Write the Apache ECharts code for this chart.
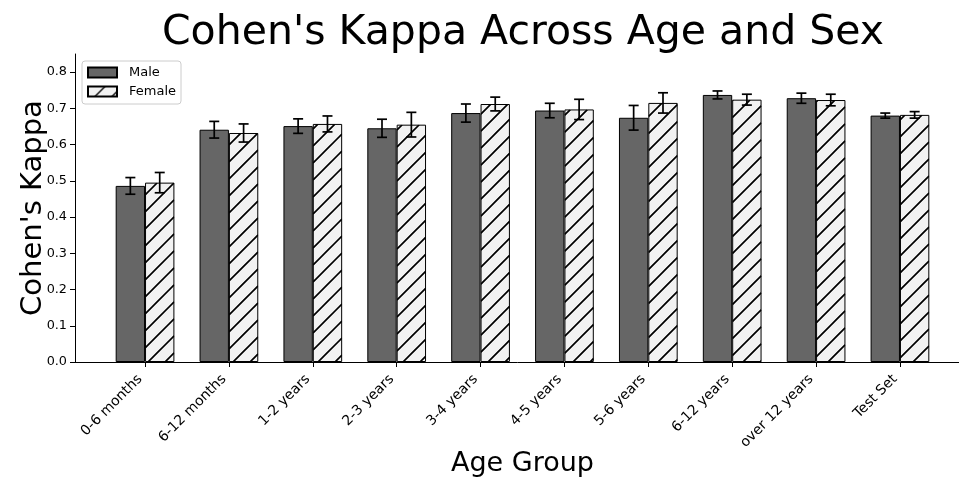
<!DOCTYPE html>
<html>
<head>
<meta charset="utf-8">
<title>Cohen's Kappa Across Age and Sex</title>
<script src="https://cdn.jsdelivr.net/npm/echarts@6/dist/echarts.min.js"></script>
<style>
  html, body { margin: 0; padding: 0; background: #fff; }
  #chart { width: 959px; height: 479px; }
</style>
</head>
<body>
<div id="chart"></div>
<script>
// Age groups on the x axis
const ageGroups = ['0-6 months', '6-12 months', '1-2 years', '2-3 years', '3-4 years',
  '4-5 years', '5-6 years', '6-12 years', 'over 12 years', 'Test Set'];

// Mean kappa and error (half-width) per group
const maleKappa   = [0.486, 0.641, 0.651, 0.645, 0.687, 0.694, 0.674, 0.737, 0.728, 0.680];
const maleErr     = [0.023, 0.023, 0.020, 0.025, 0.025, 0.020, 0.034, 0.011, 0.014, 0.007];
const femaleKappa = [0.495, 0.632, 0.657, 0.655, 0.712, 0.697, 0.715, 0.724, 0.723, 0.682];
const femaleErr   = [0.028, 0.025, 0.022, 0.034, 0.019, 0.028, 0.028, 0.015, 0.016, 0.009];

// Y axis tick labels
const yTicks = [0, 0.1, 0.2, 0.3, 0.4, 0.5, 0.6, 0.7, 0.8];

const FONT = 'DejaVu Sans';
const BAR_W = 0.35;          // bar width in category units
const HATCH = 17;            // hatch line spacing (px)
const groupIdx = ageGroups.map((_, i) => i);

// Diagonal hatch tile (used for the Female fill and its legend swatch)
function makeHatch() {
  const s = HATCH;
  const c = document.createElement('canvas');
  c.width = s; c.height = s;
  const g = c.getContext('2d');
  g.fillStyle = '#f2f2f2';
  g.fillRect(0, 0, s, s);
  g.strokeStyle = '#000';
  g.lineWidth = 1.4;
  g.beginPath();
  g.moveTo(-2, s + 2); g.lineTo(s + 2, -2);
  g.moveTo(-2, 2); g.lineTo(2, -2);
  g.moveTo(s - 2, s + 2); g.lineTo(s + 2, s - 2);
  g.stroke();
  return c;
}
const hatch = { image: makeHatch(), repeat: 'repeat' };

// "//" hatch strokes drawn inside each Female bar
function hatchLines(values) {
  return {
    type: 'custom',
    name: 'Female hatch',
    z: 3,
    silent: true,
    data: values.map((v, i) => [i, v]),
    renderItem: function (params, api) {
      const i = api.value(0);
      const v = api.value(1);
      const tl = api.coord([i, v]);
      const br = api.coord([i + BAR_W, 0]);
      const left = tl[0] + 0.5, right = br[0] - 0.5;
      const top = tl[1] + 0.5, bottom = br[1] - 0.5;
      const children = [];
      const cStart = Math.ceil((left + top) / HATCH) * HATCH;
      for (let c = cStart; c <= right + bottom; c += HATCH) {
        const xa = Math.max(left, c - bottom);
        const xb = Math.min(right, c - top);
        if (xb <= xa) continue;
        children.push({
          type: 'line',
          shape: { x1: xa, y1: c - xa, x2: xb, y2: c - xb },
          style: { stroke: '#000', lineWidth: 1.3 }
        });
      }
      return { type: 'group', children: children };
    }
  };
}

function errorBars(values, errs, shift, name) {
  return {
    type: 'custom',
    name: name + ' err',
    z: 5,
    silent: true,
    data: values.map((v, i) => [i, v, errs[i]]),
    renderItem: function (params, api) {
      const x = api.value(0) + shift;
      const v = api.value(1);
      const e = api.value(2);
      const top = api.coord([x, v + e]);
      const bot = api.coord([x, v - e]);
      const cap = 5;
      const style = { stroke: '#000', lineWidth: 1.7 };
      return {
        type: 'group',
        children: [
          { type: 'line', shape: { x1: top[0], y1: top[1], x2: bot[0], y2: bot[1] }, style: style },
          { type: 'line', shape: { x1: top[0] - cap, y1: top[1], x2: top[0] + cap, y2: top[1] }, style: style },
          { type: 'line', shape: { x1: bot[0] - cap, y1: bot[1], x2: bot[0] + cap, y2: bot[1] }, style: style }
        ]
      };
    }
  };
}

const chart = echarts.init(document.getElementById('chart'), null, { renderer: 'canvas' });

chart.setOption({
  animation: false,
  backgroundColor: '#ffffff',
  textStyle: { fontFamily: FONT },
  title: {
    text: "Cohen's Kappa Across Age and Sex",
    left: 518, top: 8, textAlign: 'center',
    textStyle: { fontFamily: FONT, fontSize: 41, fontWeight: 'normal', color: '#000' }
  },
  legend: {
    orient: 'vertical',
    left: 82, top: 61,
    padding: [5, 5, 6, 5],
    itemWidth: 29, itemHeight: 10, itemGap: 6,
    icon: 'rect',
    borderColor: '#cccccc', borderWidth: 1, borderRadius: 3,
    backgroundColor: 'rgba(255,255,255,0.8)',
    data: ['Male', 'Female'],
    textStyle: { fontFamily: FONT, fontSize: 13, color: '#000', padding: [0, 0, 0, 7] }
  },
  grid: { left: 75, right: -11, top: 54, bottom: 117, outerBoundsMode: 'none', containLabel: false },
  xAxis: {
    type: 'value',
    min: -0.5 - BAR_W + 0.015,
    max: ageGroups.length - 0.5 + BAR_W - 0.015,
    name: 'Age Group',
    nameLocation: 'middle',
    nameMoveOverlap: false,
    nameGap: 88,
    nameTextStyle: { fontFamily: FONT, fontSize: 27, color: '#000' },
    axisLine: { show: true, onZero: false, lineStyle: { color: '#000', width: 1 } },
    axisTick: { show: true, length: 5, lineStyle: { color: '#000' }, customValues: groupIdx },
    axisLabel: {
      customValues: groupIdx,
      rotate: 45,
      verticalAlign: 'bottom',
      fontFamily: FONT, fontSize: 14, color: '#000', margin: 20,
      formatter: v => ageGroups[Math.round(v)]
    },
    splitLine: { show: false }
  },
  yAxis: {
    type: 'value',
    min: 0, max: 0.85,
    name: "Cohen's Kappa",
    nameLocation: 'middle',
    nameMoveOverlap: false,
    nameGap: 27,
    nameTextStyle: { fontFamily: FONT, fontSize: 29, color: '#000' },
    axisLine: { show: true, onZero: false, lineStyle: { color: '#000', width: 1 } },
    axisTick: { show: true, length: 5, lineStyle: { color: '#000' }, customValues: yTicks },
    axisLabel: {
      customValues: yTicks,
      fontFamily: FONT, fontSize: 12.8, color: '#000', margin: 8,
      formatter: v => v.toFixed(1)
    },
    splitLine: { show: false }
  },
  series: [
    {
      name: 'Male',
      type: 'bar',
      barWidth: '35%',
      barGap: '0%',
      data: maleKappa.map((v, i) => [i, v]),
      itemStyle: { color: '#666666', borderColor: '#000', borderWidth: 1 }
    },
    {
      name: 'Female',
      type: 'bar',
      barWidth: '35%',
      barGap: '0%',
      data: femaleKappa.map((v, i) => [i, v]),
      itemStyle: { color: hatch, borderColor: '#000', borderWidth: 1 }
    },
    hatchLines(femaleKappa),
    errorBars(maleKappa, maleErr, -BAR_W / 2, 'Male'),
    errorBars(femaleKappa, femaleErr, BAR_W / 2, 'Female')
  ]
});
</script>
</body>
</html>
